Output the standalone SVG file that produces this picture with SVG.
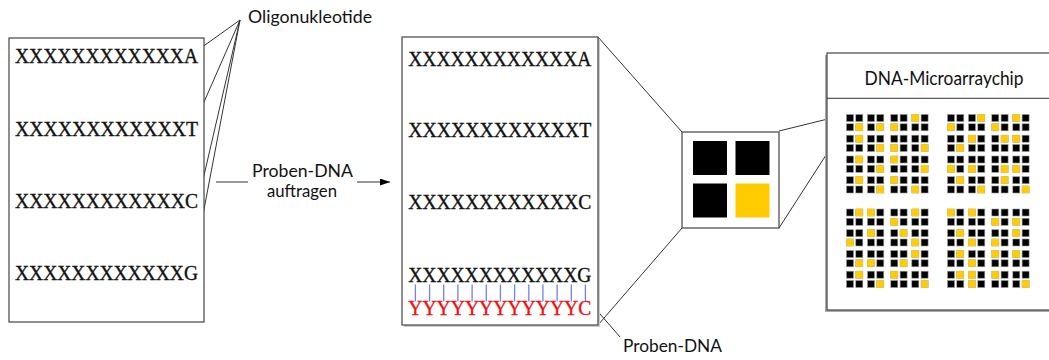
<svg xmlns="http://www.w3.org/2000/svg" xmlns:xlink="http://www.w3.org/1999/xlink" width="1049" height="360" viewBox="0 0 1049 360">
<style>
.box{fill:#fff;stroke:#444;stroke-width:1.2}
.mono{font-family:"Liberation Serif","Times New Roman",serif;font-size:20.5px;fill:#111;stroke:#111;stroke-width:0.35}
.red{fill:#f01010;stroke:#f01010}
.lbl{font-family:Lato,"Open Sans",sans-serif;font-size:17px;fill:#111}
.ln{stroke:#333;stroke-width:1;fill:none}
.bl{stroke:#6f82f2;stroke-width:1.3}
.sq{fill:#000;stroke:#999;stroke-width:0.6}
.ys{fill:#ffcc00;stroke:#f0d060;stroke-width:0.6}
</style>
<defs>
<marker id="ah" markerWidth="10" markerHeight="7" refX="10" refY="3.5" orient="auto" markerUnits="userSpaceOnUse"><path d="M0,0 L10,3.5 L0,7 z" fill="#000"/></marker>
<rect id="b" width="7" height="7" class="sq"/>
<rect id="y" width="7" height="7" class="ys"/>
<g id="q"><use xlink:href="#b"/><use xlink:href="#b" x="9.3"/><use xlink:href="#b" y="9.3"/><use xlink:href="#b" x="9.3" y="9.3"/></g>
<g id="blk">
<use xlink:href="#q" x="0" y="0"/><use xlink:href="#q" x="21" y="0"/><use xlink:href="#q" x="44.3" y="0"/><use xlink:href="#q" x="65.3" y="0"/>
<use xlink:href="#q" x="0" y="20.7"/><use xlink:href="#q" x="21" y="20.7"/><use xlink:href="#q" x="44.3" y="20.7"/><use xlink:href="#q" x="65.3" y="20.7"/>
<use xlink:href="#q" x="0" y="41.5"/><use xlink:href="#q" x="21" y="41.5"/><use xlink:href="#q" x="44.3" y="41.5"/><use xlink:href="#q" x="65.3" y="41.5"/>
<use xlink:href="#q" x="0" y="62.2"/><use xlink:href="#q" x="21" y="62.2"/><use xlink:href="#q" x="44.3" y="62.2"/><use xlink:href="#q" x="65.3" y="62.2"/>
</g>
</defs>
<rect width="1049" height="360" fill="#fff"/>

<g id="connectors">
<line class="ln" x1="240" y1="20" x2="198" y2="50"/>
<line class="ln" x1="240" y1="20" x2="197" y2="118"/>
<line class="ln" x1="240" y1="20" x2="199" y2="197"/>
<line class="ln" x1="240" y1="20" x2="194" y2="262"/>
<line class="ln" x1="216" y1="182" x2="248" y2="182"/>
<line class="ln" x1="357" y1="182" x2="390" y2="182" marker-end="url(#ah)"/>
<line class="ln" x1="594" y1="307" x2="620" y2="337"/>
<line class="ln" x1="598" y1="37" x2="682" y2="132"/>
<line class="ln" x1="598" y1="325" x2="682" y2="228"/>
<line class="ln" x1="779" y1="131" x2="846" y2="114.5"/>
<line class="ln" x1="779" y1="228" x2="846" y2="124"/>
</g>

<g id="label-oligo"><text class="lbl" x="248" y="23" textLength="124" lengthAdjust="spacingAndGlyphs">Oligonukleotide</text></g>
<g id="label-auftragen">
<text class="lbl" x="252" y="177" textLength="101" lengthAdjust="spacingAndGlyphs">Proben-DNA</text>
<text class="lbl" x="267" y="196.5" textLength="70" lengthAdjust="spacingAndGlyphs">auftragen</text>
</g>
<g id="label-proben"><text class="lbl" x="623" y="352" textLength="99" lengthAdjust="spacingAndGlyphs">Proben-DNA</text></g>

<g id="left-box">
<rect class="box" x="9" y="38" width="195" height="284"/>
<text class="mono" x="15" y="63" textLength="183" lengthAdjust="spacingAndGlyphs">XXXXXXXXXXXXA</text>
<text class="mono" x="15" y="135.5" textLength="183" lengthAdjust="spacingAndGlyphs">XXXXXXXXXXXXT</text>
<text class="mono" x="15" y="208" textLength="183" lengthAdjust="spacingAndGlyphs">XXXXXXXXXXXXC</text>
<text class="mono" x="15" y="280" textLength="183" lengthAdjust="spacingAndGlyphs">XXXXXXXXXXXXG</text>
</g>

<g id="middle-box">
<rect x="404" y="39" width="196" height="288" fill="#ccc"/>
<rect class="box" x="402" y="37" width="196" height="288"/>
<text class="mono" x="408.3" y="65.5" textLength="183" lengthAdjust="spacingAndGlyphs">XXXXXXXXXXXXA</text>
<text class="mono" x="408.3" y="136.5" textLength="183" lengthAdjust="spacingAndGlyphs">XXXXXXXXXXXXT</text>
<text class="mono" x="408.3" y="209" textLength="183" lengthAdjust="spacingAndGlyphs">XXXXXXXXXXXXC</text>
<text class="mono" x="408.3" y="281.5" textLength="183" lengthAdjust="spacingAndGlyphs">XXXXXXXXXXXXG</text>
<g class="bl">
<line x1="415.4" y1="284.5" x2="415.4" y2="301.5"/><line x1="429.6" y1="284.5" x2="429.6" y2="301.5"/><line x1="443.7" y1="284.5" x2="443.7" y2="301.5"/><line x1="457.9" y1="284.5" x2="457.9" y2="301.5"/><line x1="472.1" y1="284.5" x2="472.1" y2="301.5"/><line x1="486.3" y1="284.5" x2="486.3" y2="301.5"/><line x1="500.4" y1="284.5" x2="500.4" y2="301.5"/><line x1="514.6" y1="284.5" x2="514.6" y2="301.5"/><line x1="528.8" y1="284.5" x2="528.8" y2="301.5"/><line x1="542.9" y1="284.5" x2="542.9" y2="301.5"/><line x1="557.1" y1="284.5" x2="557.1" y2="301.5"/><line x1="571.3" y1="284.5" x2="571.3" y2="301.5"/><line x1="585.4" y1="284.5" x2="585.4" y2="301.5"/>
</g>
<text class="mono red" x="408.3" y="315" textLength="183" lengthAdjust="spacingAndGlyphs">YYYYYYYYYYYYC</text>
</g>

<g id="zoom-box">
<rect class="box" x="682" y="132" width="97" height="96"/>
<rect x="693" y="141" width="34" height="34" fill="#000"/>
<rect x="735.5" y="141" width="34" height="34" fill="#000"/>
<rect x="693" y="183.5" width="34" height="34" fill="#000"/>
<rect x="735.5" y="183.5" width="34" height="34" fill="#ffcc00"/>
</g>

<g id="chip">
<rect x="825" y="55" width="240" height="257" fill="#aaa"/>
<rect class="box" x="827" y="53" width="240" height="257"/>
<line class="ln" x1="827" y1="98.3" x2="1049" y2="98.3"/>
<text class="lbl" x="864.5" y="85" style="font-size:18.5px" textLength="159" lengthAdjust="spacingAndGlyphs">DNA-Microarraychip</text>
<g id="block1" transform="translate(846.5,114.5)">
<use xlink:href="#blk"/>
<use xlink:href="#y" x="65.3" y="0"/>
<use xlink:href="#y" x="9.3" y="9.3"/><use xlink:href="#y" x="30.3" y="9.3"/><use xlink:href="#y" x="44.3" y="9.3"/>
<use xlink:href="#y" x="9.3" y="20.7"/>
<use xlink:href="#y" x="30.3" y="30"/><use xlink:href="#y" x="44.3" y="30"/><use xlink:href="#y" x="74.6" y="30"/>
<use xlink:href="#y" x="9.3" y="41.5"/><use xlink:href="#y" x="44.3" y="41.5"/>
<use xlink:href="#y" x="30.3" y="50.8"/><use xlink:href="#y" x="74.6" y="50.8"/>
<use xlink:href="#y" x="9.3" y="62.2"/><use xlink:href="#y" x="44.3" y="62.2"/>
<use xlink:href="#y" x="30.3" y="71.5"/><use xlink:href="#y" x="65.3" y="71.5"/>
</g>
<g id="block2" transform="translate(947.5,114.5)">
<use xlink:href="#blk"/>
<use xlink:href="#y" x="30.3" y="0"/><use xlink:href="#y" x="65.3" y="0"/>
<use xlink:href="#y" x="0" y="9.3"/><use xlink:href="#y" x="44.3" y="9.3"/>
<use xlink:href="#y" x="21" y="20.7"/><use xlink:href="#y" x="53.6" y="20.7"/><use xlink:href="#y" x="65.3" y="20.7"/>
<use xlink:href="#y" x="9.3" y="30"/>
<use xlink:href="#y" x="0" y="50.8"/><use xlink:href="#y" x="21" y="50.8"/><use xlink:href="#y" x="53.6" y="50.8"/><use xlink:href="#y" x="65.3" y="50.8"/>
<use xlink:href="#y" x="9.3" y="62.2"/><use xlink:href="#y" x="53.6" y="62.2"/>
<use xlink:href="#y" x="30.3" y="71.5"/><use xlink:href="#y" x="74.6" y="71.5"/>
</g>
<g id="block3" transform="translate(846.5,209)">
<use xlink:href="#blk"/>
<use xlink:href="#y" x="9.3" y="0"/><use xlink:href="#y" x="21" y="0"/><use xlink:href="#y" x="65.3" y="0"/>
<use xlink:href="#y" x="44.3" y="9.3"/>
<use xlink:href="#y" x="21" y="20.7"/><use xlink:href="#y" x="53.6" y="20.7"/>
<use xlink:href="#y" x="0" y="30"/><use xlink:href="#y" x="65.3" y="30"/>
<use xlink:href="#y" x="65.3" y="41.5"/>
<use xlink:href="#y" x="9.3" y="50.8"/><use xlink:href="#y" x="21" y="50.8"/><use xlink:href="#y" x="53.6" y="50.8"/>
<use xlink:href="#y" x="9.3" y="62.2"/><use xlink:href="#y" x="44.3" y="62.2"/>
<use xlink:href="#y" x="30.3" y="71.5"/><use xlink:href="#y" x="74.6" y="71.5"/>
</g>
<g id="block4" transform="translate(947.5,209)">
<use xlink:href="#blk"/>
<use xlink:href="#y" x="0" y="0"/><use xlink:href="#y" x="21" y="0"/>
<use xlink:href="#y" x="44.3" y="9.3"/><use xlink:href="#y" x="65.3" y="9.3"/>
<use xlink:href="#y" x="9.3" y="20.7"/><use xlink:href="#y" x="65.3" y="20.7"/>
<use xlink:href="#y" x="21" y="30"/><use xlink:href="#y" x="44.3" y="30"/>
<use xlink:href="#y" x="9.3" y="41.5"/><use xlink:href="#y" x="44.3" y="41.5"/><use xlink:href="#y" x="65.3" y="41.5"/>
<use xlink:href="#y" x="21" y="50.8"/>
<use xlink:href="#y" x="9.3" y="62.2"/><use xlink:href="#y" x="21" y="62.2"/><use xlink:href="#y" x="44.3" y="62.2"/>
<use xlink:href="#y" x="21" y="71.5"/><use xlink:href="#y" x="74.6" y="71.5"/>
</g>
</g>
</svg>
